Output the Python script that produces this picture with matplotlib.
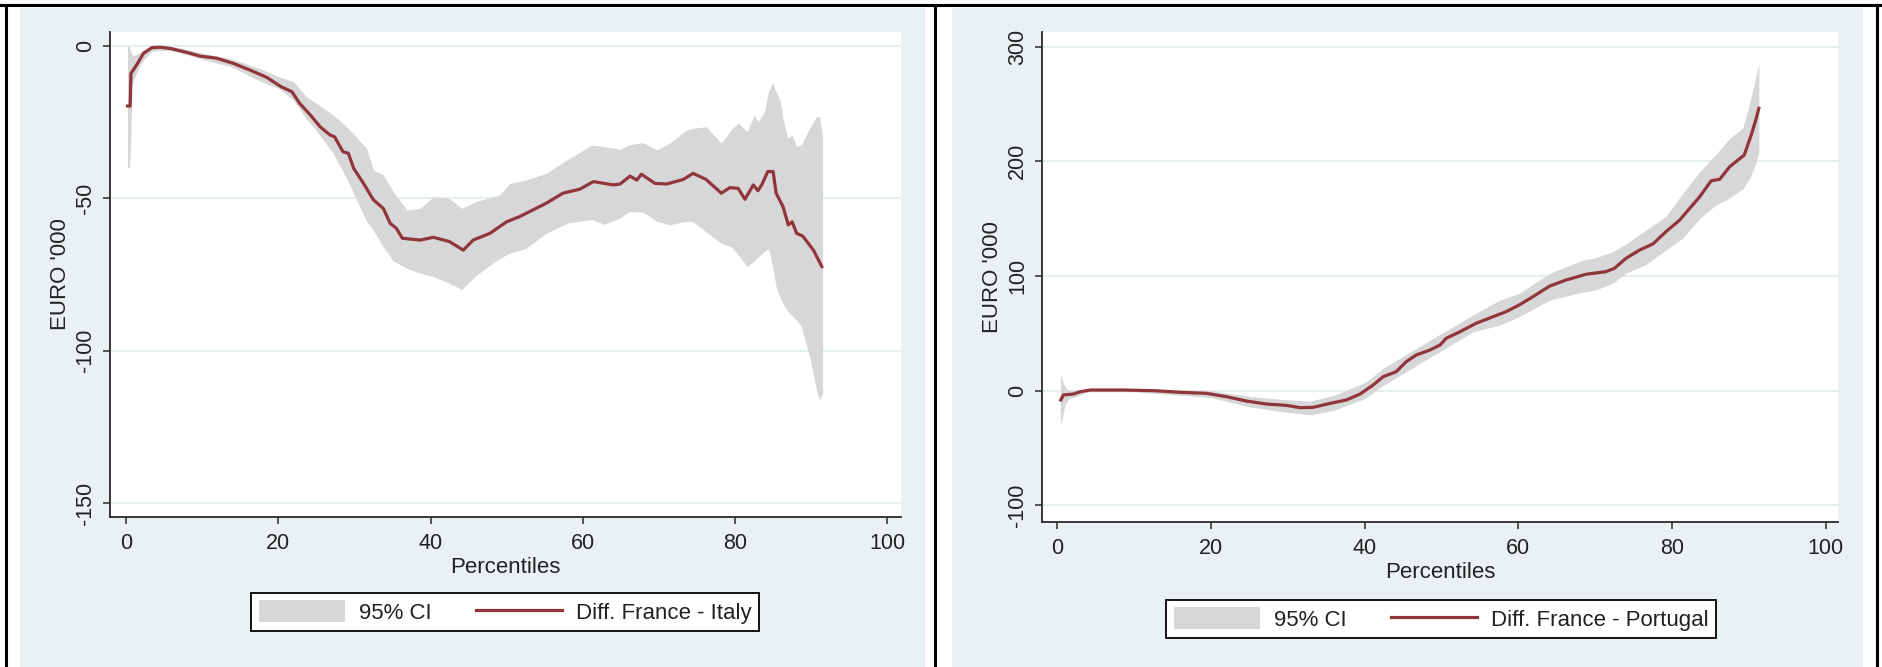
import matplotlib
matplotlib.use("Agg")
import matplotlib.pyplot as plt
from matplotlib.patches import Rectangle
from matplotlib.lines import Line2D

plt.rcParams['font.family'] = ['Liberation Sans', 'DejaVu Sans']
plt.rcParams['axes.unicode_minus'] = False

# France - Italy: point estimate of the difference (EURO '000) by percentile
it_x = [0.2, 0.55, 0.65, 1.4, 2.3, 3.4, 4.5, 5.8, 8.0, 9.7, 11.9, 14.1, 16.3, 18.5, 20.4,
        21.8, 22.8, 24.2, 25.5, 26.8, 27.4, 28.5, 29.2, 29.9, 31.2, 32.5, 33.8, 34.7, 35.5,
        36.3, 38.6, 40.4, 42.5, 44.3, 45.6, 47.8, 50.0, 51.7, 55.2, 57.4, 59.6, 61.4, 64.0,
        64.9, 66.2, 67.1, 67.7, 69.5, 71.0, 73.2, 74.5, 76.2, 78.2, 79.3, 80.4, 81.3, 82.4,
        83.0, 83.5, 84.3, 85.0, 85.4, 86.3, 87.0, 87.5, 88.1, 88.9, 90.3, 91.4]
it_diff = [-19.7, -19.7, -9.0, -6.2, -2.4, -0.55, -0.4, -0.8, -2.1, -3.3, -4.0, -5.7, -7.9,
           -10.3, -13.4, -15.0, -18.8, -22.6, -26.5, -29.2, -29.8, -34.7, -35.2, -40.1, -45.1,
           -50.5, -53.3, -58.2, -59.8, -63.1, -63.7, -62.8, -64.2, -67.0, -63.7, -61.5, -57.7,
           -56.0, -51.6, -48.3, -47.0, -44.5, -45.6, -45.3, -42.7, -44.0, -42.1, -45.1, -45.3,
           -43.8, -41.8, -43.8, -48.3, -46.5, -46.7, -50.3, -45.6, -47.5, -45.6, -41.2, -41.2,
           -48.3, -52.7, -58.7, -57.7, -61.5, -62.4, -67.0, -72.4]

# France - Italy: 95% confidence band
it_ci_x = [0.2, 0.45, 0.6, 0.8, 1.2, 1.8, 2.5, 3.5, 6, 10, 14, 18, 20, 22, 23.7, 24.6, 27.2,
           29.0, 31.6, 32.5, 33.8, 35.1, 36.9, 38.6, 40.4, 42.5, 44.1, 45.9, 47.5, 49.1, 50.4,
           52.5, 55.2, 57.9, 61.2, 62.8, 64.9, 66.0, 67.9, 69.7, 71.4, 73.6, 74.5, 76.2, 78.2,
           79.5, 80.4, 81.6, 82.5, 83.0, 83.8, 84.4, 84.9, 85.4, 85.9, 86.4, 86.9, 87.5, 88.1,
           88.7, 89.8, 90.7, 91.1, 91.5]
it_ci_hi = [-0.2, -0.2, -1.5, -3.0, -3.0, -2.0, -1.0, 0.3, 0.0, -2.3, -4.3, -7.8, -10.0, -11.7,
            -16.6, -18.1, -22.6, -26.5, -33.6, -40.7, -42.3, -47.8, -53.8, -53.3, -49.4, -50.0,
            -53.3, -51.1, -50.0, -48.9, -45.1, -44.0, -41.8, -37.4, -32.5, -33.0, -33.9, -32.5,
            -31.7, -34.1, -31.9, -27.6, -27.0, -26.5, -31.9, -27.5, -25.2, -28.1, -22.6, -24.8,
            -22.0, -15.0, -12.0, -15.0, -17.7, -25.0, -30.3, -29.2, -33.0, -32.4, -27.0, -23.2,
            -23.0, -29.8]
it_ci_lo = [-40, -40, -33, -12.5, -10, -6.5, -4, -1.5, -1.5, -4.3, -7, -12, -13.8, -17.7, -24.0,
            -26.5, -35.2, -43.5, -57.5, -60.5, -66, -70.5, -73, -74.5, -75.7, -77.9, -79.9,
            -75.5, -72.5, -69.7, -68.0, -66.5, -61.5, -58.2, -56.9, -58.5, -56.5, -54.4, -54.5,
            -57.5, -58.7, -57.5, -57.7, -61.0, -64.8, -65.9, -68.5, -72.4, -70.5, -69.4, -67.5,
            -66.5, -72.0, -79.0, -82.5, -85.0, -87.0, -88.5, -90.0, -92.1, -102.0, -112.9,
            -116.2, -114.0]

# France - Portugal: point estimate
pt_x = [0.44, 0.78, 2.1, 2.95, 4.25, 8.6, 12.7, 16.0, 19.4, 22.0, 24.6, 27.2, 29.8, 31.6, 33.3,
        35.5, 37.6, 39.4, 41.1, 42.4, 44.1, 45.4, 46.7, 48.5, 49.8, 50.6, 52.4, 54.5, 56.7,
        58.4, 60.1, 61.9, 64.1, 66.2, 68.8, 71.4, 72.5, 74.0, 75.8, 77.5, 79.2, 81.0, 82.3,
        83.6, 85.1, 86.2, 87.5, 89.4, 90.3, 90.9, 91.3]
pt_diff = [-8.1, -3.7, -2.9, -0.9, 0.6, 0.6, 0.0, -1.4, -2.3, -5.2, -9.0, -11.6, -12.8, -14.8,
           -14.5, -11.0, -8.1, -2.9, 5.0, 12.2, 16.6, 25.3, 31.1, 35.5, 39.8, 45.7, 51.4, 58.8,
           64.5, 68.9, 74.7, 82.0, 91.3, 96.5, 101.5, 103.8, 106.7, 115.4, 122.7, 127.9, 138.6,
           148.8, 159.0, 169.1, 183.1, 184.3, 195.3, 205.5, 222.9, 236.0, 246.2]

# France - Portugal: 95% confidence band
pt_ci_x = [0.4, 0.6, 1.0, 1.5, 2.5, 4.0, 10, 20, 25, 30, 33, 36, 40, 42.5, 45, 50, 54.1, 57.6,
           60.1, 64.1, 68.4, 70.1, 72.3, 74.0, 76.6, 79.2, 81.4, 83.6, 85.7, 87.5, 89.2, 90.1,
           90.9, 91.3]
pt_ci_lo = [-29.9, -25, -12, -7, -5, -1, -1, -6, -14, -19, -21, -17, -7, 5, 15, 35, 51.4, 57.3,
            64.5, 79.1, 86, 87.8, 94, 102.4, 110, 122.7, 133, 150.3, 161.9, 168, 176, 185,
            198.3, 208.4]
pt_ci_hi = [14.6, 10, 3, 0.5, 0.5, 2, 2, 0, -5, -8, -9, -4, 7, 20, 30, 50, 66.0, 79.1, 84.9,
            102.4, 113.9, 116, 121.2, 128, 140.1, 152, 172.1, 190.9, 206, 220, 228.8, 250.6,
            273.8, 285.4]

x_ticks = [0, 20, 40, 60, 80, 100]
it_yticks = [0, -50, -100, -150]
pt_yticks = [-100, 0, 100, 200, 300]

BG = '#e9f1f3'
GRID = '#e3edf0'
CI_COLOR = '#d7d7d7'
LINE_COLOR = '#90353b'
AXIS_COLOR = '#2a2a2a'

W, H = 1883, 667
fig = plt.figure(figsize=(W / 100, H / 100), dpi=100)
fig.patch.set_facecolor('white')

# graph regions (light bluish panels)
for x0, x1 in [(20, 925), (952, 1863)]:
    fig.add_artist(Rectangle((x0 / W, 0), (x1 - x0) / W, 1 - 8 / H,
                             transform=fig.transFigure, facecolor=BG,
                             edgecolor='none', zorder=0))

# outer frame lines
frame = dict(transform=fig.transFigure, color='black', lw=2.2, zorder=5)
fig.add_artist(Line2D([0, 1], [1 - 5 / H, 1 - 5 / H], **frame))
for xv in (6.5, 935, 1877):
    fig.add_artist(Line2D([xv / W, xv / W], [0, 1 - 5 / H], **frame))


def draw_panel(rect, x, y, ci_x, lo, hi, yticks, ylim, xlim, label, legend_xy):
    ax = fig.add_axes(rect)
    ax.set_facecolor('white')
    ax.fill_between(ci_x, lo, hi, color=CI_COLOR, lw=0, label='95% CI', zorder=2)
    ax.plot(x, y, color=LINE_COLOR, lw=2.3, label=label, zorder=3)
    ax.set_xlim(*xlim)
    ax.set_ylim(*ylim)
    ax.set_xticks(x_ticks)
    ax.set_yticks(yticks)
    ax.yaxis.grid(True, color=GRID, lw=1.3)
    ax.set_axisbelow(True)
    for s in ('top', 'right'):
        ax.spines[s].set_visible(False)
    for s in ('left', 'bottom'):
        ax.spines[s].set_color(AXIS_COLOR)
        ax.spines[s].set_linewidth(1.3)
    ax.tick_params(direction='out', length=5, width=1.1, color=AXIS_COLOR,
                   labelsize=15.5, labelcolor='#222222')
    ax.tick_params(axis='x', pad=7)
    ax.tick_params(axis='y', pad=5)
    for t in ax.get_yticklabels():
        t.set_rotation(90)
        t.set_va('center')
    ax.set_xlabel('Percentiles', fontsize=16, color='#222222', labelpad=2)
    ax.set_ylabel("EURO '000", fontsize=16, color='#222222', labelpad=3)
    leg = ax.legend(loc='center', bbox_to_anchor=legend_xy,
                    bbox_transform=fig.transFigure, ncol=2, fontsize=16,
                    frameon=True, fancybox=False, framealpha=1, edgecolor='black',
                    handlelength=3.9, handleheight=1.1, handletextpad=0.6,
                    columnspacing=2.0, borderpad=0.35)
    leg.get_frame().set_linewidth(1.3)
    for t in leg.get_texts():
        t.set_color('#222222')
    return ax


draw_panel([110 / W, 1 - 516.7 / H, 791 / W, 485 / H],
           it_x, it_diff, it_ci_x, it_ci_lo, it_ci_hi,
           it_yticks, (-154.5, 4.7), (-2.1, 101.8),
           'Diff. France - Italy', (505 / W, 1 - 612 / H))

draw_panel([1042 / W, 1 - 521.7 / H, 796 / W, 490 / H],
           pt_x, pt_diff, pt_ci_x, pt_ci_lo, pt_ci_hi,
           pt_yticks, (-114.2, 313.0), (-2.0, 101.6),
           'Diff. France - Portugal', (1441 / W, 1 - 619 / H))

fig.savefig('out.png', dpi=100)
